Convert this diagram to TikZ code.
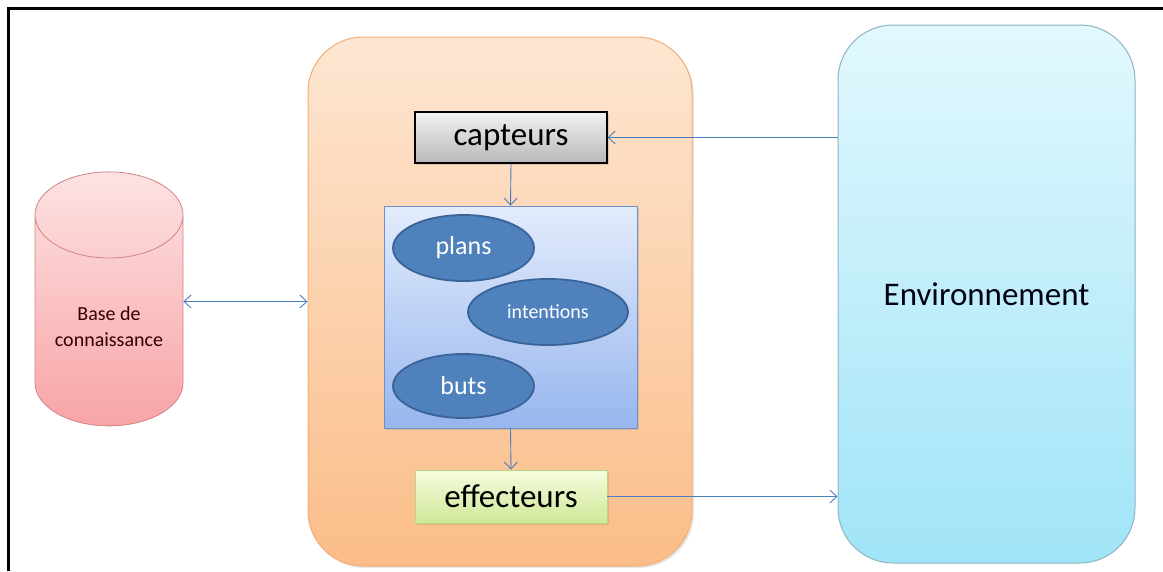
\documentclass[tikz,border=0pt]{standalone}
\usepackage{fontspec}
\setmainfont{Carlito}
\usepackage{xcolor}
\usetikzlibrary{positioning,shapes,shadows,arrows.meta}
\definecolor{arrowblue}{HTML}{4A7EBB}
\definecolor{agenttop}{HTML}{FDE6D2}
\definecolor{agentbot}{HTML}{FBBD88}
\definecolor{agentline}{HTML}{F2AE77}
\definecolor{envtop}{HTML}{E2F8FE}
\definecolor{envbot}{HTML}{A0E4F7}
\definecolor{envline}{HTML}{8EB4C2}
\definecolor{mindtop}{HTML}{E3ECFC}
\definecolor{mindbot}{HTML}{97B6EE}
\definecolor{mindline}{HTML}{6F90C8}
\definecolor{effetop}{HTML}{F6FCDE}
\definecolor{effebot}{HTML}{CFE898}
\definecolor{effeline}{HTML}{B9D87E}
\definecolor{basetop}{HTML}{FDE2E2}
\definecolor{basebot}{HTML}{F8A4A7}
\definecolor{baseline}{HTML}{C0504D}
\definecolor{ovalfill}{HTML}{4F81BD}
\definecolor{ovalline}{HTML}{3A6497}

\begin{document}
\begin{tikzpicture}[x=1pt,y=-1pt,
                    flow/.style = {-{Straight Barb[length=7pt,width=13pt]}, draw=arrowblue, line width=0.9pt},
                    both/.style = {{Straight Barb[length=7pt,width=13pt]}-{Straight Barb[length=7pt,width=13pt]}, draw=arrowblue, line width=0.9pt},
                    bigbox/.style = {rectangle, rounded corners=55pt, line width=1pt},
                    part/.style = {rectangle, minimum width=192pt, font=\fontsize{33}{36}\selectfont,
                                   drop shadow={shadow xshift=2pt,shadow yshift=-2pt,opacity=0.25}},
                    oval/.style = {ellipse, fill=ovalfill, draw=ovalline, line width=1.8pt, text=white, inner sep=0pt}]
					\useasboundingbox (0,0) rectangle (1163,571);
					\draw[line width=2.5pt] (8.5,571) -- (8.5,8.5) -- (1163,8.5);
					
					\node[bigbox, minimum width=384pt, minimum height=529pt, top color=agenttop, bottom color=agentbot, draw=agentline,
					      drop shadow={shadow xshift=2pt,shadow yshift=-2pt,opacity=0.2}] (agent) at (500,301.5) {};
					\node[bigbox, minimum width=297pt, minimum height=538pt, top color=envtop, bottom color=envbot, draw=envline,
					      font=\fontsize{33}{36}\selectfont, text=black!92!blue] (env) at (986.5,294) {Environnement};
					
					\node[cylinder, shape border rotate=90, aspect=0.75, minimum width=148pt, minimum height=254pt,
					      top color=basetop, bottom color=basebot, draw=baseline!70, line width=0.8pt,
					      align=center, font=\fontsize{20}{26}\selectfont, text=black!80!red] (base) at (109,327) {Base de\\connaissance};
					
					\node[part, minimum height=51pt, top color=white!95!black, bottom color=black!28, draw=black, line width=1.2pt] (capteurs) at (511,137.5) {capteurs};
					\node[rectangle, minimum width=253pt, minimum height=222pt, top color=mindtop, bottom color=mindbot, draw=mindline, line width=0.8pt,
					      drop shadow={shadow xshift=2pt,shadow yshift=-2pt,opacity=0.25}] (mind) at (510.5,317) {};
					\node[part, minimum height=53pt, top color=effetop, bottom color=effebot, draw=effeline, line width=0.8pt] (effecteurs) at (511,496.5) {effecteurs};
					
					\node[oval, minimum width=141pt, minimum height=66pt, font=\fontsize{26}{28}\selectfont] (plans) at (463.5,248) {plans};
					\node[oval, minimum width=160pt, minimum height=66pt, font=\fontsize{20}{22}\selectfont] (intentions) at (548,312) {intentions};
					\node[oval, minimum width=141pt, minimum height=64pt, font=\fontsize{26}{28}\selectfont] (buts) at (463.5,386) {buts};
					
					\draw[both] (base.east |- agent.west) to (agent.west);
					\draw[flow] (env.west |- capteurs.east) to (capteurs.east);
					\draw[flow] (capteurs.south) to (mind.north);
					\draw[flow] (mind.south) to (effecteurs.north);
					\draw[flow] (effecteurs.east) to (env.west |- effecteurs.east);
				\end{tikzpicture}
\end{document}
